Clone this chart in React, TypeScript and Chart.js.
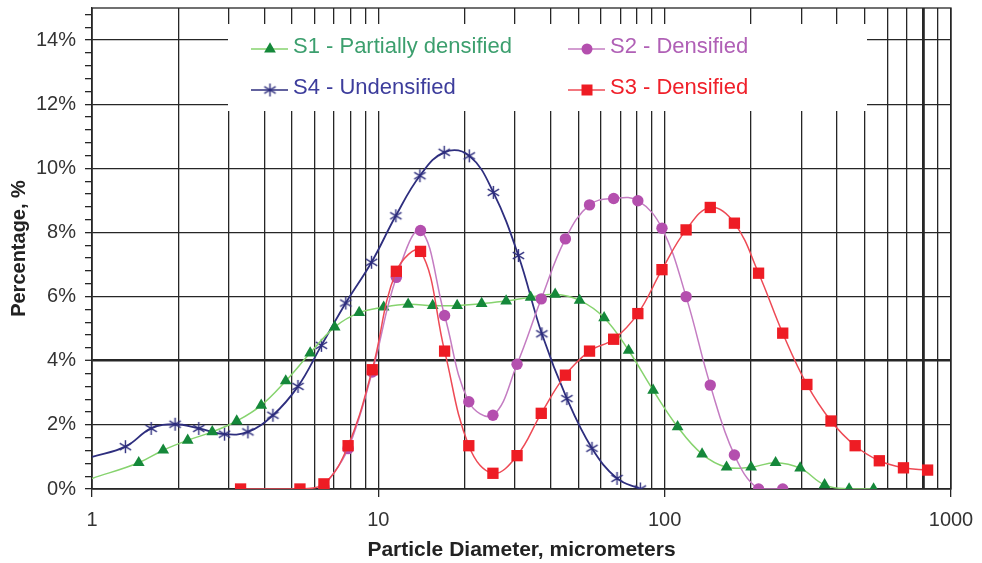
import React, { useEffect, useRef } from 'react';
import { Chart, registerables } from 'chart.js';

Chart.register(...registerables);

// ---------- data ----------
const s1X = [1, 1.456, 1.773, 2.159, 2.63, 3.202, 3.899, 4.749, 5.781, 7.04, 8.573, 10.44, 12.71, 15.48, 18.85, 22.95, 27.95, 34.03, 41.45, 50.47, 61.45, 74.83, 91.14, 110.96, 135.1, 164.5, 200.4, 244.0, 297.2, 361.8, 440.7, 536.6];
const s1Y = [0.33, 0.82, 1.21, 1.52, 1.78, 2.12, 2.61, 3.37, 4.24, 5.05, 5.5, 5.67, 5.76, 5.72, 5.72, 5.78, 5.86, 5.98, 6.07, 5.88, 5.34, 4.32, 3.08, 1.94, 1.09, 0.68, 0.68, 0.82, 0.65, 0.13, 0, 0];

const s2X = [6.457, 7.842, 9.52, 11.56, 14.04, 17.04, 20.7, 25.13, 30.51, 37.07, 45.01, 54.65, 66.36, 80.6, 97.86, 118.8, 144.3, 175.2, 212.8, 258.4];
const s2Y = [0.05, 1.26, 3.65, 6.6, 8.06, 5.41, 2.72, 2.3, 3.89, 5.93, 7.8, 8.86, 9.06, 8.99, 8.13, 6.0, 3.24, 1.06, 0, 0];

const s3X = [3.303, 5.324, 6.457, 7.842, 9.52, 11.56, 14.04, 17.04, 20.7, 25.13, 30.51, 37.07, 45.01, 54.65, 66.36, 80.6, 97.86, 118.8, 144.3, 175.2, 212.8, 258.4, 313.8, 381.0, 462.7, 561.9, 682.3, 828.5];
const s3Y = [0, 0, 0.16, 1.35, 3.72, 6.79, 7.41, 4.3, 1.35, 0.49, 1.04, 2.36, 3.55, 4.3, 4.67, 5.47, 6.84, 8.08, 8.78, 8.29, 6.73, 4.86, 3.26, 2.12, 1.35, 0.88, 0.66, 0.59];

const s4X = [1, 1.308, 1.609, 1.951, 2.36, 2.903, 3.503, 4.284, 5.241, 6.328, 7.695, 9.467, 11.51, 13.97, 16.99, 20.78, 25.22, 30.84, 37.24, 45.55, 55.72, 68.17, 82.22];
const s4Y = [1.0, 1.32, 1.89, 2.02, 1.89, 1.71, 1.78, 2.3, 3.2, 4.48, 5.8, 7.07, 8.52, 9.77, 10.5, 10.39, 9.25, 7.28, 4.84, 2.82, 1.27, 0.33, 0];

const seriesLabels = ['S1 - Partially densified', 'S2 - Densified', 'S4 - Undensified', 'S3 - Densified'];
const xGridValues = [1, 2, 3, 4, 5, 6, 7, 8, 9, 10, 20, 30, 40, 50, 60, 70, 80, 90, 100, 200, 300, 400, 500, 600, 700, 800, 900, 1000];
const xLabelValues = [1, 10, 100, 1000];
const xTickLabels = ['1', '10', '100', '1000'];

const FONT = '"Liberation Sans", Arial, Helvetica, sans-serif';
const GRID = '#262626';

const C1 = { line: '#86d36e', mark: '#15883a', text: '#3c9f6e' };
const C2 = { line: '#c47cc2', mark: '#b44fae', text: '#b060b6' };
const C3 = { line: '#ee4a55', mark: '#ee1c24', text: '#f0202a' };
const C4 = { line: '#2e2e7e', mark: '#2e2e7e', text: '#3d3d9c' };

function makeStar(color: string) {
  const c = document.createElement('canvas');
  c.width = 15;
  c.height = 15;
  const g = c.getContext('2d')!;
  g.strokeStyle = color;
  g.lineWidth = 1.4;
  g.beginPath();
  g.moveTo(7.5, 1);
  g.lineTo(7.5, 14);
  g.moveTo(1.8, 4.2);
  g.lineTo(13.2, 10.8);
  g.moveTo(1.8, 10.8);
  g.lineTo(13.2, 4.2);
  g.stroke();
  return c;
}

const toPts = (xs: number[], ys: number[]) => xs.map((x, i) => ({ x, y: ys[i] }));

export default function App() {
  const ref = useRef<HTMLCanvasElement | null>(null);

  useEffect(() => {
    document.body.style.margin = '0';
    const canvas = ref.current;
    if (!canvas) return;
    const star = makeStar(C4.mark);

    const framePlugin = {
      id: 'frame',
      beforeDatasetsDraw(chart: any) {
        const { ctx, chartArea: ca } = chart;
        ctx.save();
        ctx.strokeStyle = GRID;
        ctx.lineWidth = 1.3;
        ctx.strokeRect(ca.left, ca.top, ca.right - ca.left, ca.bottom - ca.top);
        ctx.restore();
      },
    };

    const legendPlugin = {
      id: 'boxLegend',
      afterDraw(chart: any) {
        const { ctx, chartArea: ca } = chart;
        ctx.save();
        ctx.fillStyle = '#ffffff';
        ctx.fillRect(ca.left + 136, ca.top + 16, 639, 87);
        const entries = [
          { label: seriesLabels[0], c: C1, m: 'tri', dx: 159, dy: 41 },
          { label: seriesLabels[1], c: C2, m: 'circ', dx: 476, dy: 41 },
          { label: seriesLabels[2], c: C4, m: 'star', dx: 159, dy: 82 },
          { label: seriesLabels[3], c: C3, m: 'sq', dx: 476, dy: 82 },
        ];
        entries.forEach((e) => {
          const x0 = ca.left + e.dx;
          const y = ca.top + e.dy;
          ctx.strokeStyle = e.c.line;
          ctx.lineWidth = 1.5;
          ctx.beginPath();
          ctx.moveTo(x0, y);
          ctx.lineTo(x0 + 37, y);
          ctx.stroke();
          const mx = x0 + 19;
          ctx.fillStyle = e.c.mark;
          ctx.beginPath();
          if (e.m === 'tri') {
            const r = 6.8;
            ctx.moveTo(mx, y - r);
            ctx.lineTo(mx + r * 0.866, y + r * 0.5);
            ctx.lineTo(mx - r * 0.866, y + r * 0.5);
            ctx.closePath();
            ctx.fill();
          } else if (e.m === 'circ') {
            ctx.arc(mx, y, 5.5, 0, Math.PI * 2);
            ctx.fill();
          } else if (e.m === 'sq') {
            ctx.rect(mx - 5.5, y - 5.5, 11, 11);
            ctx.fill();
          } else {
            ctx.drawImage(star, mx - 7.5, y - 7.5);
          }
          ctx.fillStyle = e.c.text;
          ctx.font = `22px ${FONT}`;
          ctx.textBaseline = 'middle';
          ctx.textAlign = 'left';
          ctx.fillText(e.label, x0 + 42, y - 2);
        });
        ctx.restore();
      },
    };

    const isMajorY = (v: number) => Math.abs(v / 2 - Math.round(v / 2)) < 1e-6;

    const chart = new Chart(canvas, {
      type: 'line',
      data: {
        datasets: [
          {
            label: seriesLabels[3],
            data: toPts(s3X, s3Y),
            borderColor: C3.line,
            borderWidth: 1.5,
            tension: 0.4,
            pointStyle: 'rect',
            pointRadius: 8,
            pointBackgroundColor: C3.mark,
            pointBorderColor: C3.mark,
            pointBorderWidth: 0,
            order: 0,
          },
          {
            label: seriesLabels[1],
            data: toPts(s2X, s2Y),
            borderColor: C2.line,
            borderWidth: 1.5,
            tension: 0.4,
            pointStyle: 'circle',
            pointRadius: 5.7,
            pointBackgroundColor: C2.mark,
            pointBorderColor: C2.mark,
            pointBorderWidth: 0,
            order: 1,
          },
          {
            label: seriesLabels[0],
            data: toPts(s1X, s1Y),
            borderColor: C1.line,
            borderWidth: 1.5,
            tension: 0.4,
            pointStyle: 'triangle',
            pointRadius: (c: any) => (c.dataIndex === 0 ? 0 : 6.8),
            pointBackgroundColor: C1.mark,
            pointBorderColor: C1.mark,
            pointBorderWidth: 0,
            order: 2,
          },
          {
            label: seriesLabels[2],
            data: toPts(s4X, s4Y),
            borderColor: C4.line,
            borderWidth: 1.8,
            tension: 0.4,
            pointStyle: star as any,
            pointRadius: (c: any) => (c.dataIndex === 0 ? 0 : 6),
            order: 3,
          },
        ] as any,
      },
      options: {
        animation: false,
        responsive: false,
        maintainAspectRatio: false,
        devicePixelRatio: 1,
        events: [],
        layout: { padding: { top: 6, right: 31, left: 0, bottom: 0 } },
        plugins: { legend: { display: false }, tooltip: { enabled: false } },
        scales: {
          x: {
            type: 'logarithmic',
            min: 1,
            max: 1000,
            afterBuildTicks: (s: any) => {
              s.ticks = xGridValues.map((v) => ({ value: v, major: xLabelValues.includes(v) }));
            },
            afterFit: (s: any) => {
              s.height = 74;
              s.paddingLeft = 0;
              s.paddingRight = 0;
            },
            ticks: {
              autoSkip: false,
              maxRotation: 0,
              minRotation: 0,
              padding: 11,
              color: '#333333',
              font: { size: 20, family: FONT },
              callback: (v: any) => {
                const i = xLabelValues.indexOf(Number(v));
                return i >= 0 ? xTickLabels[i] : '';
              },
            },
            grid: {
              color: GRID,
              lineWidth: (c: any) => (c.tick && c.tick.value === 800 ? 2.8 : 1.3),
              tickLength: 8,
              tickWidth: 1.3,
              tickColor: (c: any) => (c.tick && xLabelValues.includes(c.tick.value) ? GRID : 'rgba(0,0,0,0)'),
            },
            border: { display: true, color: GRID, width: 1.3 },
            title: {
              display: true,
              text: 'Particle Diameter, micrometers',
              color: '#222222',
              font: { size: 21, weight: 'bold', family: FONT },
              padding: { top: 0, bottom: 0 },
            },
          },
          y: {
            min: 0,
            max: 15,
            afterFit: (s: any) => {
              s.width = 92;
              s.paddingTop = 0;
              s.paddingBottom = 0;
            },
            ticks: {
              stepSize: 0.4,
              includeBounds: false,
              autoSkip: false,
              padding: 9,
              color: '#333333',
              font: { size: 20, family: FONT },
              callback: (v: any) => (isMajorY(Number(v)) ? `${Math.round(Number(v))}%` : ''),
            },
            grid: {
              color: (c: any) => (c.tick && isMajorY(c.tick.value) ? GRID : 'rgba(0,0,0,0)'),
              lineWidth: (c: any) => (c.tick && Math.abs(c.tick.value - 4) < 1e-6 ? 2.6 : 1.3),
              tickLength: 7,
              tickWidth: 1.3,
              tickColor: GRID,
            },
            border: { display: true, color: GRID, width: 1.3 },
            title: {
              display: true,
              text: 'Percentage, %',
              color: '#222222',
              font: { size: 20, weight: 'bold', family: FONT },
              padding: { top: 7, bottom: 0 },
            },
          },
        },
      } as any,
      plugins: [framePlugin, legendPlugin],
    });
    return () => chart.destroy();
  }, []);

  return (
    <div style={{ width: 982, height: 563 }}>
      <canvas ref={ref} width={982} height={563} style={{ display: 'block' }} />
    </div>
  );
}
